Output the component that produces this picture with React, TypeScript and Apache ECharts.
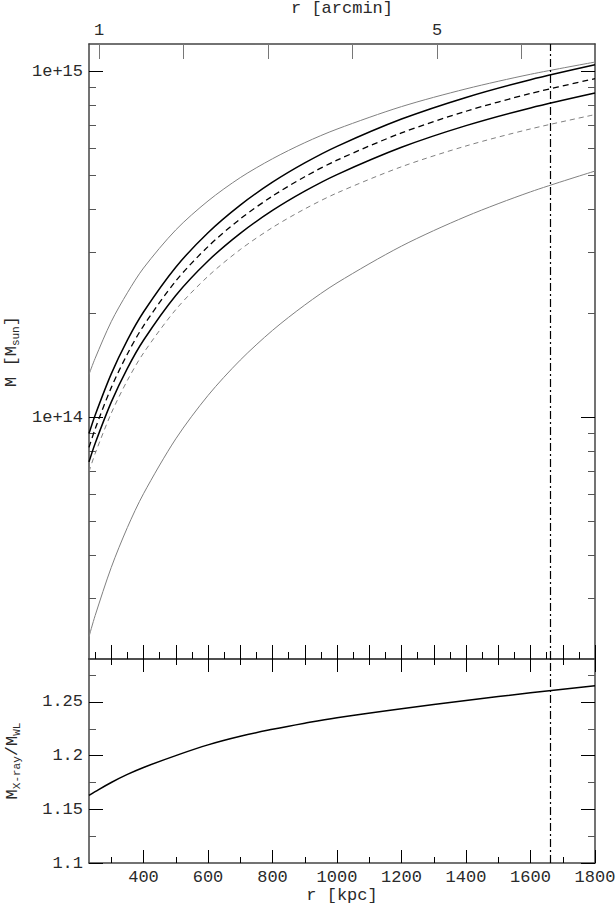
import React, { useEffect, useRef } from 'react';
import * as echarts from 'echarts';

// ---------------- data ----------------
const radiusKpc = [231, 250, 300, 350, 400, 500, 600, 700, 800, 900, 1000, 1200, 1400, 1600, 1800];

// masses in units of 1e14 M_sun
const grayUpper = [1.33, 1.48, 1.89, 2.29, 2.70, 3.48, 4.22, 4.93, 5.59, 6.22, 6.81, 7.91, 8.90, 9.81, 10.64];
const solidUpper = [0.897, 1.014, 1.335, 1.671, 2.015, 2.715, 3.416, 4.106, 4.781, 5.436, 6.071, 7.28, 8.409, 9.463, 10.45];
const dashedMid = [0.818, 0.925, 1.218, 1.524, 1.838, 2.476, 3.115, 3.745, 4.36, 4.958, 5.537, 6.639, 7.669, 8.63, 9.53];
const solidLower = [0.743, 0.84, 1.106, 1.385, 1.67, 2.25, 2.831, 3.403, 3.962, 4.505, 5.031, 6.033, 6.969, 7.842, 8.66];
const grayDashed = [0.696, 0.785, 1.027, 1.278, 1.533, 2.047, 2.556, 3.054, 3.537, 4.002, 4.451, 5.3, 6.087, 6.818, 7.5];
const grayLower = [0.232, 0.267, 0.368, 0.48, 0.601, 0.866, 1.156, 1.463, 1.783, 2.111, 2.446, 3.125, 3.807, 4.484, 5.15];

// M_X-ray / M_WL
const massRatio = [1.163, 1.1665, 1.175, 1.1825, 1.189, 1.2, 1.21, 1.218, 1.2245, 1.2302, 1.2353, 1.2437, 1.2513, 1.2585, 1.265];

const boundaryKpc = 1661;
const kpcPerArcmin = 262;

// ticks / labels
const kpcMin = 231;
const kpcMax = 1800;
const kpcTicksTop = [300, 400, 500, 600, 700, 800, 900, 1000, 1100, 1200, 1300, 1400, 1500, 1600, 1700, 1800];
const kpcMinorTop = [250, 350, 450, 550, 650, 750, 850, 950, 1050, 1150, 1250, 1350, 1450, 1550, 1650, 1750];
const kpcLabels = [400, 600, 800, 1000, 1200, 1400, 1600, 1800];
const kpcMinorLow = [300, 500, 700, 900, 1100, 1300, 1500, 1700];
const arcminTicks = [1, 2, 3, 4, 5, 6];
const arcminLabels = [1, 5];
const massLabels = [1, 10];
const massMinor = [0.3, 0.4, 0.5, 0.6, 0.7, 0.8, 0.9, 2, 3, 4, 5, 6, 7, 8, 9];
const massMin = 0.2;
const massMax = 12;
const ratioLabels = [1.1, 1.15, 1.2, 1.25];
const ratioMinor = [1.125, 1.175, 1.225, 1.275];
const ratioMin = 1.1;
const ratioMax = 1.29;

// ---------------- styling ----------------
const FONT = 'Liberation Mono';
const TXT = { fontFamily: FONT, fontSize: 17, color: '#2a2a2a' };
const FRAME = { show: true, onZero: false, lineStyle: { color: '#444', width: 1.5 } };
const NOLINE = { show: false, onZero: false };

function axis(o: any) {
  const { ticks, len, labels, line, color, formatter, margin, ...rest } = o;
  return {
    type: 'value',
    splitLine: { show: false },
    axisLine: line ? FRAME : NOLINE,
    axisTick: ticks
      ? { show: true, inside: true, length: len, customValues: ticks, lineStyle: { color: color || '#000', width: 1 } }
      : { show: false },
    axisLabel: labels
      ? { show: true, customValues: labels, margin: margin ?? 6, formatter, ...TXT }
      : { show: false },
    ...rest,
  };
}

const pairs = (ys: number[]) => radiusKpc.map((r, i) => [r, ys[i]]);

export default function App() {
  const ref = useRef<HTMLDivElement>(null);
  useEffect(() => {
    const chart = echarts.init(ref.current!, null, { renderer: 'svg' });
    const richName = {
      a: { fontFamily: FONT, fontSize: 17, color: '#2a2a2a' },
      s: { fontFamily: FONT, fontSize: 11, color: '#2a2a2a', padding: [9, 0, 0, 0] },
    };
    const option: any = {
      animation: false,
      backgroundColor: '#fff',
      grid: [
        { left: 89, right: 21, top: 44, height: 615, outerBoundsMode: 'none' },
        { left: 89, right: 21, top: 659, height: 204, outerBoundsMode: 'none' },
      ],
      xAxis: [
        axis({ gridIndex: 0, position: 'bottom', min: kpcMin, max: kpcMax, ticks: kpcTicksTop, len: 14, line: true }),
        axis({ gridIndex: 0, position: 'bottom', min: kpcMin, max: kpcMax, ticks: kpcMinorTop, len: 7 }),
        axis({
          gridIndex: 0, position: 'top', min: kpcMin / kpcPerArcmin, max: kpcMax / kpcPerArcmin,
          ticks: arcminTicks, len: 15, color: '#777', line: true, labels: arcminLabels, margin: 5,
          formatter: (v: number) => String(v),
          name: 'r [arcmin]', nameLocation: 'middle', nameGap: 26, nameTextStyle: TXT,
        }),
        axis({
          gridIndex: 1, position: 'bottom', min: kpcMin, max: kpcMax, ticks: kpcLabels, len: 13, line: true,
          labels: kpcLabels, formatter: (v: number) => String(v),
          name: 'r [kpc]', nameLocation: 'middle', nameGap: 24, nameTextStyle: TXT,
        }),
        axis({ gridIndex: 1, position: 'bottom', min: kpcMin, max: kpcMax, ticks: kpcMinorLow, len: 6 }),
        axis({ gridIndex: 1, position: 'top', min: kpcMin, max: kpcMax, ticks: kpcLabels, len: 13, line: true }),
        axis({ gridIndex: 1, position: 'top', min: kpcMin, max: kpcMax, ticks: kpcMinorLow, len: 6 }),
      ],
      yAxis: [
        axis({
          type: 'log', logBase: 10, gridIndex: 0, position: 'left', min: massMin, max: massMax,
          ticks: massLabels, len: 14, line: true, labels: massLabels,
          formatter: (v: number) => (v * 1e14).toExponential(),
          name: '{a|M [M}{s|sun}{a|]}', nameLocation: 'middle', nameGap: 67, nameRotate: 90,
          nameTextStyle: { ...TXT, rich: richName },
        }),
        axis({ type: 'log', logBase: 10, gridIndex: 0, position: 'left', min: massMin, max: massMax, ticks: massMinor, len: 7, color: '#555' }),
        axis({ type: 'log', logBase: 10, gridIndex: 0, position: 'right', min: massMin, max: massMax, ticks: massLabels, len: 14, line: true }),
        axis({ type: 'log', logBase: 10, gridIndex: 0, position: 'right', min: massMin, max: massMax, ticks: massMinor, len: 7, color: '#555' }),
        axis({
          gridIndex: 1, position: 'left', min: ratioMin, max: ratioMax, ticks: ratioLabels, len: 14, line: true,
          labels: ratioLabels, formatter: (v: number) => String(+v.toFixed(3)),
          name: '{a|M}{s|X-ray}{a|/M}{s|WL}', nameLocation: 'middle', nameGap: 67, nameRotate: 90,
          nameTextStyle: { ...TXT, rich: richName },
        }),
        axis({ gridIndex: 1, position: 'left', min: ratioMin, max: ratioMax, ticks: ratioMinor, len: 7, color: '#555' }),
        axis({ gridIndex: 1, position: 'right', min: ratioMin, max: ratioMax, ticks: ratioLabels, len: 14, line: true }),
        axis({ gridIndex: 1, position: 'right', min: ratioMin, max: ratioMax, ticks: ratioMinor, len: 7, color: '#555' }),
      ],
      series: [
        {
          type: 'line', xAxisIndex: 0, yAxisIndex: 0, data: pairs(grayUpper), showSymbol: false, smooth: 0.3,
          lineStyle: { color: '#808080', width: 1 },
          markLine: {
            silent: true, symbol: 'none', label: { show: false },
            lineStyle: { color: '#000', width: 1.2, type: [8, 3, 2, 3] },
            data: [{ xAxis: boundaryKpc }],
          },
        },
        { type: 'line', xAxisIndex: 0, yAxisIndex: 0, data: pairs(solidUpper), showSymbol: false, smooth: 0.3, lineStyle: { color: '#000', width: 1.5 } },
        { type: 'line', xAxisIndex: 0, yAxisIndex: 0, data: pairs(dashedMid), showSymbol: false, smooth: 0.3, lineStyle: { color: '#000', width: 1.3, type: [6, 4] } },
        { type: 'line', xAxisIndex: 0, yAxisIndex: 0, data: pairs(solidLower), showSymbol: false, smooth: 0.3, lineStyle: { color: '#000', width: 1.5 } },
        { type: 'line', xAxisIndex: 0, yAxisIndex: 0, data: pairs(grayDashed), showSymbol: false, smooth: 0.3, lineStyle: { color: '#808080', width: 1, type: [5, 4] } },
        { type: 'line', xAxisIndex: 0, yAxisIndex: 0, data: pairs(grayLower), showSymbol: false, smooth: 0.3, lineStyle: { color: '#808080', width: 1 } },
        {
          type: 'line', xAxisIndex: 3, yAxisIndex: 4, data: pairs(massRatio), showSymbol: false, smooth: 0.4,
          lineStyle: { color: '#000', width: 1.5 },
          markLine: {
            silent: true, symbol: 'none', label: { show: false },
            lineStyle: { color: '#000', width: 1.2, type: [8, 3, 2, 3] },
            data: [{ xAxis: boundaryKpc }],
          },
        },
      ],
    };
    chart.setOption(option);
    return () => chart.dispose();
  }, []);
  return <div ref={ref} style={{ position: 'fixed', left: 0, top: 0, width: 616, height: 906, background: '#fff' }} />;
}
